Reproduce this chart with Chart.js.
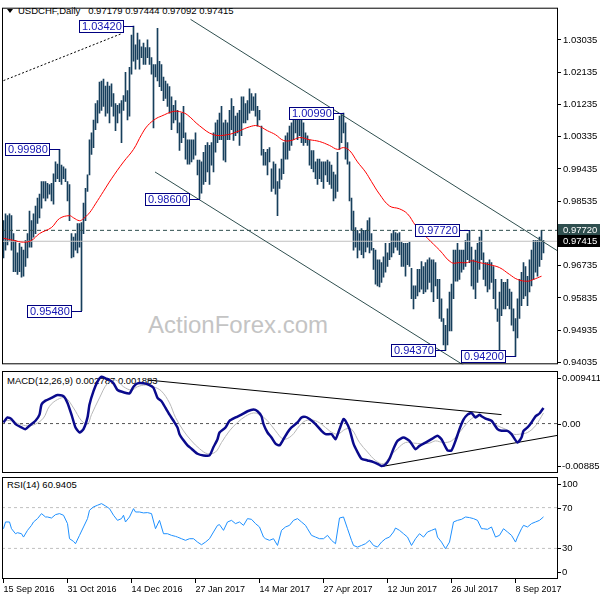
<!DOCTYPE html>
<html lang="en">
<head>
<meta charset="UTF-8" />
<title>USDCHF Daily</title>
<script src="https://cdn.jsdelivr.net/npm/chart.js"></script>
<style>
  body { margin: 0; background: #fff; }
  #wrap { position: relative; width: 600px; height: 600px; overflow: hidden; font-family: 'Liberation Sans', Arial, sans-serif; }
  #wrap canvas { position: absolute; left: 0; }
  .txt { position: absolute; white-space: pre; color: #000; font-size: 9.5px; line-height: 11px; }
  #mark { position: absolute; left: 148px; top: 313px; font-size: 24px; line-height: 24px; color: #c4c4c4; }
  #tri { position: absolute; left: 7px; top: 9px; width: 0; height: 0; border-left: 3px solid transparent; border-right: 3px solid transparent; border-top: 4px solid #000; }
</style>
</head>
<body>
<div id="wrap">
  <div id="mark">ActionForex.com</div>
  <div id="tri"></div>
  <div class="txt" style="left:18px;top:5px">USDCHF,Daily   0.97179 0.97444 0.97092 0.97415</div>
  <div class="txt" style="left:7px;top:375px">MACD(12,26,9) 0.002787 0.001883</div>
  <div class="txt" style="left:7px;top:479px">RSI(14) 60.9405</div>
  <canvas id="main" width="600" height="372" style="top:0"></canvas>
  <canvas id="macd" width="600" height="107" style="top:368px"></canvas>
  <canvas id="rsi" width="600" height="126" style="top:474px"></canvas>
</div>

<script>
  // daily bars, one entry per trading day (index 0 = 15 Sep 2016)
  const highs = [
    0.9799,0.9818,0.9813,0.9818,0.9813,0.9763,0.9744,0.9709,0.9736,0.9725,
    0.9717,0.9744,0.9763,0.9826,0.9799,0.9818,0.9840,0.9862,0.9873,0.9908,
    0.9908,0.9908,0.9903,0.9900,0.9903,0.9930,0.9963,0.9957,0.9998,0.9954,
    0.9949,0.9944,0.9908,0.9900,0.9763,0.9753,0.9763,0.9791,0.9791,0.9794,
    0.9848,0.9889,0.9927,1.0025,1.0044,1.0080,1.0126,1.0134,1.0186,1.0189,
    1.0194,1.0175,1.0186,1.0175,1.0181,1.0154,1.0126,1.0121,1.0126,1.0134,
    1.0148,1.0213,1.0162,1.0227,1.0317,1.0342,1.0290,1.0323,1.0304,1.0284,
    1.0295,1.0282,1.0304,1.0282,1.0254,1.0235,1.0235,1.0336,1.0244,1.0235,
    1.0200,1.0189,1.0181,1.0173,1.0145,1.0121,1.0134,1.0107,1.0072,1.0099,
    1.0118,1.0044,1.0025,1.0025,1.0025,1.0025,1.0044,0.9968,0.9968,0.9963,
    0.9990,1.0009,1.0017,1.0009,1.0017,1.0044,1.0072,1.0080,1.0099,1.0118,
    1.0072,1.0080,1.0072,1.0107,1.0140,1.0118,1.0091,1.0099,1.0107,1.0145,
    1.0145,1.0126,1.0134,1.0167,1.0154,1.0145,1.0154,1.0118,1.0107,1.0063,
    0.9998,0.9990,0.9998,1.0003,0.9944,0.9963,0.9957,0.9908,0.9944,0.9971,
    1.0017,1.0036,1.0044,1.0063,1.0072,1.0094,1.0107,1.0099,1.0091,1.0080,
    1.0072,1.0044,1.0036,1.0025,0.9995,0.9995,0.9963,0.9971,0.9971,0.9963,
    0.9963,0.9963,0.9968,0.9963,0.9954,0.9935,0.9927,0.9990,1.0091,1.0094,
    1.0099,1.0072,1.0017,0.9963,0.9862,0.9826,0.9780,0.9772,0.9763,0.9777,
    0.9772,0.9772,0.9799,0.9807,0.9763,0.9722,0.9717,0.9690,0.9690,0.9682,
    0.9698,0.9736,0.9709,0.9736,0.9763,0.9772,0.9766,0.9763,0.9766,0.9739,
    0.9736,0.9736,0.9736,0.9739,0.9666,0.9617,0.9617,0.9663,0.9663,0.9685,
    0.9671,0.9682,0.9690,0.9695,0.9690,0.9690,0.9682,0.9635,0.9635,0.9581,
    0.9526,0.9507,0.9553,0.9600,0.9622,0.9717,0.9717,0.9736,0.9717,0.9717,
    0.9717,0.9744,0.9763,0.9772,0.9725,0.9690,0.9717,0.9736,0.9753,0.9772,
    0.9709,0.9682,0.9682,0.9690,0.9682,0.9671,0.9635,0.9553,0.9600,0.9635,
    0.9627,0.9627,0.9635,0.9608,0.9600,0.9553,0.9526,0.9581,0.9635,0.9655,
    0.9682,0.9671,0.9644,0.9690,0.9717,0.9744,0.9744,0.9744,0.9753,0.9772,
    0.9744
  ];
  const lows = [
    0.9695,0.9717,0.9731,0.9744,0.9717,0.9657,0.9657,0.9649,0.9657,0.9641,
    0.9644,0.9671,0.9695,0.9725,0.9725,0.9753,0.9763,0.9791,0.9807,0.9834,
    0.9862,0.9854,0.9862,0.9873,0.9854,0.9845,0.9908,0.9916,0.9908,0.9900,
    0.9916,0.9908,0.9854,0.9799,0.9695,0.9698,0.9717,0.9709,0.9725,0.9548,
    0.9763,0.9799,0.9881,0.9927,0.9984,1.0003,1.0053,1.0072,1.0099,1.0107,
    1.0118,1.0091,1.0099,1.0072,1.0118,1.0091,1.0050,1.0072,1.0099,1.0017,
    1.0107,1.0132,1.0080,1.0091,1.0208,1.0244,1.0222,1.0249,1.0222,1.0254,
    1.0235,1.0235,1.0254,1.0235,1.0208,1.0058,1.0200,1.0189,1.0173,1.0162,
    1.0134,1.0140,1.0118,1.0099,1.0053,1.0072,1.0080,1.0044,0.9995,1.0017,
    1.0031,0.9971,0.9957,0.9957,0.9963,0.9971,0.9982,0.9927,0.9860,0.9876,
    0.9900,0.9908,0.9935,0.9900,0.9954,0.9935,0.9990,1.0017,1.0025,1.0025,
    0.9968,0.9963,1.0025,1.0025,1.0053,1.0023,1.0036,1.0044,1.0009,1.0036,
    1.0072,1.0072,1.0080,1.0099,1.0107,1.0107,1.0091,1.0063,1.0080,0.9982,
    0.9954,0.9954,0.9927,0.9963,0.9881,0.9889,0.9873,0.9813,0.9889,0.9914,
    0.9930,0.9971,0.9971,0.9995,1.0009,1.0025,1.0044,1.0025,1.0036,1.0017,
    1.0009,1.0017,1.0009,0.9954,0.9944,0.9935,0.9916,0.9900,0.9916,0.9908,
    0.9889,0.9927,0.9908,0.9900,0.9889,0.9854,0.9862,0.9881,0.9998,1.0017,
    1.0044,0.9971,0.9957,0.9854,0.9772,0.9717,0.9725,0.9695,0.9717,0.9704,
    0.9695,0.9712,0.9725,0.9709,0.9717,0.9663,0.9622,0.9617,0.9614,0.9627,
    0.9641,0.9655,0.9671,0.9690,0.9698,0.9709,0.9725,0.9717,0.9704,0.9671,
    0.9671,0.9644,0.9676,0.9671,0.9581,0.9553,0.9581,0.9589,0.9600,0.9608,
    0.9595,0.9600,0.9608,0.9627,0.9600,0.9573,0.9617,0.9581,0.9526,0.9518,
    0.9452,0.9437,0.9452,0.9491,0.9491,0.9581,0.9630,0.9630,0.9635,0.9655,
    0.9663,0.9671,0.9690,0.9682,0.9617,0.9608,0.9581,0.9627,0.9663,0.9690,
    0.9635,0.9617,0.9600,0.9608,0.9627,0.9581,0.9553,0.9518,0.9422,0.9534,
    0.9553,0.9553,0.9562,0.9553,0.9507,0.9491,0.9420,0.9472,0.9526,0.9562,
    0.9581,0.9589,0.9562,0.9600,0.9617,0.9635,0.9655,0.9644,0.9671,0.9690,
    0.9709
  ];

  // red moving average, read at these bar indexes
  const maIdx = [0,5,10,14,18,24,28,33,35,38,40,43,46,50,54,60,65,69,72,76,79,85,89,92,98,105,112,118,123,127,132,136,140,144,148,153,158,163,167,170,173,177,181,184,188,193,198,202,206,212,218,224,228,232,234,238,243,248,253,257,262,265,269];
  const maVal = [0.9750,0.9744,0.9739,0.9744,0.9763,0.9780,0.9805,0.9813,0.9807,0.9799,0.9805,0.9821,0.9846,0.9881,0.9916,0.9963,0.9998,1.0039,1.0064,1.0083,1.0091,1.0104,1.0102,1.0094,1.0064,1.0039,1.0039,1.0050,1.0061,1.0064,1.0050,1.0039,1.0023,1.0023,1.0031,1.0025,1.0020,1.0009,0.9998,1.0003,0.9995,0.9963,0.9935,0.9908,0.9873,0.9840,0.9832,0.9818,0.9786,0.9750,0.9717,0.9682,0.9682,0.9682,0.9687,0.9682,0.9676,0.9668,0.9649,0.9635,0.9630,0.9635,0.9644];

  const macdIdx = [0,2,4,6,9,11,13,16,18,19,21,24,27,30,32,34,36,38,40,42,43,45,47,49,51,53,55,57,60,63,65,67,70,73,75,77,79,81,83,85,87,88,90,92,94,97,100,103,105,107,108,111,113,116,119,122,125,127,129,130,132,134,136,138,140,142,144,147,149,151,153,156,159,161,164,166,168,170,171,173,175,177,179,182,185,187,189,191,193,195,197,200,203,206,208,211,214,217,219,222,224,226,228,230,232,234,236,238,239,241,244,247,249,252,254,257,259,260,262,264,266,268,270];
  const macdVal = [0.0002,0.0011,0.0008,-0.0001,-0.0007,-0.0010,-0.0004,0.0005,0.0016,0.0034,0.0041,0.0046,0.0051,0.0049,0.0037,0.0016,-0.0007,-0.0016,-0.0010,0.0011,0.0034,0.0058,0.0075,0.0084,0.0081,0.0078,0.0072,0.0060,0.0056,0.0054,0.0066,0.0072,0.0072,0.0069,0.0064,0.0046,0.0040,0.0028,0.0016,0.0005,-0.0007,-0.0019,-0.0030,-0.0039,-0.0045,-0.0054,-0.0057,-0.0057,-0.0042,-0.0028,-0.0016,-0.0007,0.0005,0.0011,0.0016,0.0022,0.0025,0.0022,0.0013,-0.0001,-0.0016,-0.0025,-0.0036,-0.0039,-0.0028,-0.0016,-0.0007,0.0002,0.0011,0.0012,0.0008,-0.0001,-0.0013,-0.0019,-0.0019,-0.0028,-0.0010,0.0008,0.0005,-0.0010,-0.0036,-0.0051,-0.0063,-0.0066,-0.0069,-0.0072,-0.0076,-0.0073,-0.0063,-0.0045,-0.0031,-0.0025,-0.0031,-0.0046,-0.0040,-0.0034,-0.0028,-0.0022,-0.0028,-0.0048,-0.0048,-0.0031,-0.0010,0.0007,0.0016,0.0019,0.0011,0.0016,0.0013,0.0009,0.0005,-0.0010,-0.0013,-0.0013,-0.0019,-0.0034,-0.0025,-0.0013,-0.0007,0.0002,0.0013,0.0018,0.0028];
  const sigIdx = [0,4,8,12,16,20,23,27,31,35,39,42,44,48,52,56,60,64,67,71,75,79,83,86,90,94,98,102,106,109,113,117,121,125,128,132,136,140,144,148,151,155,159,163,167,171,174,178,182,186,190,193,197,201,205,209,213,216,220,224,228,232,236,239,243,247,251,255,258,262,266,270];
  const sigVal = [0.0005,0.0005,-0.0001,-0.0004,-0.0001,0.0010,0.0031,0.0043,0.0046,0.0028,0.0005,-0.0001,0.0016,0.0046,0.0072,0.0078,0.0066,0.0060,0.0066,0.0069,0.0066,0.0058,0.0037,0.0011,-0.0013,-0.0031,-0.0045,-0.0054,-0.0051,-0.0034,-0.0013,0.0002,0.0013,0.0019,0.0016,0.0005,-0.0013,-0.0028,-0.0022,-0.0004,0.0005,0.0006,-0.0001,-0.0013,-0.0019,-0.0010,-0.0010,-0.0034,-0.0051,-0.0066,-0.0072,-0.0060,-0.0045,-0.0034,-0.0035,-0.0036,-0.0035,-0.0031,-0.0034,-0.0031,-0.0016,0.0002,0.0013,0.0013,0.0007,-0.0004,-0.0010,-0.0019,-0.0019,-0.0016,-0.0004,0.0019];

  const rsiIdx = [0,1,3,4,6,7,9,10,12,14,15,17,19,21,22,24,26,28,30,32,33,35,36,38,40,42,43,45,47,49,51,53,55,57,59,60,61,63,65,66,68,70,72,74,76,78,80,82,84,86,87,89,91,93,95,97,99,101,103,105,107,108,110,112,114,116,118,120,122,124,126,128,130,131,133,135,137,139,141,143,145,147,149,151,152,154,156,158,160,162,164,166,168,170,172,174,175,177,179,181,183,185,187,189,191,193,195,196,198,200,202,204,206,208,210,212,214,216,217,219,221,223,225,227,229,231,233,235,237,239,240,242,244,246,248,250,252,254,256,257,259,260,262,264,266,268,270];
  const rsiVal = [49.3,55.9,55.9,49.3,44.4,45.4,44.4,41.1,47.7,52.6,55.9,59.2,64.1,60.8,60.8,59.8,63.1,64.1,62.5,54.3,39.5,36.9,34.6,42.8,51.0,59.2,67.4,70.7,72.3,73.9,71.6,69.0,62.5,57.5,59.2,62.5,55.9,60.8,69.0,65.7,65.7,64.8,65.1,64.1,49.3,57.5,44.4,44.4,42.8,41.8,41.1,39.5,37.9,39.5,39.5,36.2,33.6,36.2,39.5,46.1,52.6,53.3,47.7,55.9,57.5,54.3,55.9,52.6,59.2,58.5,54.3,51.0,41.1,39.5,37.9,39.5,32.9,47.7,51.0,52.6,57.5,59.2,55.9,52.6,49.3,42.8,41.1,39.5,39.5,42.8,37.9,34.6,59.8,60.8,49.3,37.9,32.9,31.3,32.9,34.6,37.9,32.9,31.3,36.2,39.5,41.1,46.1,50.0,47.7,44.4,41.1,32.9,39.5,44.4,41.1,46.1,47.7,49.3,41.1,36.2,29.7,36.2,55.9,57.5,58.5,60.8,60.2,59.2,57.5,49.3,49.3,48.7,51.0,41.1,42.8,49.3,46.1,42.8,36.2,41.1,49.3,52.6,51.0,54.3,55.9,57.5,60.9];

  // drawn objects: trend lines as [bar index, value] end points
  const dottedIdx = [0, 59.4],       dottedVal = [1.0190, 1.0322];
  const chanTopIdx = [93.5, 277.25], chanTopVal = [1.0361, 0.9714];
  const chanBotIdx = [75.75, 230.25], chanBotVal = [0.9935, 0.9395];
  const macdTopIdx = [72, 249],      macdTopVal = [0.0078, 0.0016];
  const macdBotIdx = [189, 277.25],  macdBotVal = [-0.0077, -0.0021];
  const resistLevel = 0.9772;
  const lastPrice = 0.97415;

  // price labels placed on swing points
  const annIdx = [65, 28, 39, 98, 170, 233, 221, 256];
  const annPrice = [1.0342, 0.9998, 0.9548, 0.9860, 1.0099, 0.9772, 0.9437, 0.9420];
  const tagVals = [resistLevel, lastPrice];

  // axes
  const priceTicks = [1.03035, 1.02135, 1.01235, 1.00335, 0.99435, 0.98535, 0.97635, 0.96735, 0.95835, 0.94935, 0.94035];
  const macdTicks = [0.009411, 0, -0.008852];
  const rsiTicks = [100, 70, 30, 0];
  const rsiLevels = [70, 30];
  const dateIdx = [0, 32, 64, 96, 128, 160, 192, 224, 256];
  const dateLabels = ['15 Sep 2016', '31 Oct 2016', '14 Dec 2016', '27 Jan 2017', '14 Mar 2017', '27 Apr 2017', '12 Jun 2017', '26 Jul 2017', '8 Sep 2017'];

  const FONT = "'Liberation Sans', Arial, sans-serif";
  const X_MIN = -0.75, X_MAX = 277.25;
  const TAG_COLORS = ['#2f4f4f', '#000000'];
  Chart.defaults.font.family = FONT;
  Chart.defaults.animation = false;

  function pts(xs, ys) { return xs.map((x, k) => ({ x: x, y: ys[k] })); }
  function line(xs, ys, color, width, more) {
    return Object.assign({ type: 'line', data: pts(xs, ys), borderColor: color, borderWidth: width,
      pointRadius: 0, fill: false, tension: 0 }, more || {});
  }
  function hline(v, color, dash) { return line([X_MIN, X_MAX], [v, v], color, 1, { borderDash: dash }); }
  function xAxis() { return { type: 'linear', display: false, min: X_MIN, max: X_MAX, offset: false, bounds: 'data' }; }

  const framePlugin = {
    id: 'frame',
    afterDraw(chart) {
      const a = chart.chartArea, ctx = chart.ctx;
      ctx.save();
      ctx.strokeStyle = '#000';
      ctx.lineWidth = 1;
      ctx.strokeRect(a.left + 0.5, a.top + 0.5, a.right - a.left - 1, a.bottom - a.top - 1);
      ctx.restore();
    }
  };

  const annPlugin = {
    id: 'ann',
    afterDatasetsDraw(chart) {
      const { ctx, scales: { x, y } } = chart;
      ctx.save();
      ctx.font = '11px ' + FONT;
      ctx.textBaseline = 'middle';
      ctx.lineWidth = 1;
      annIdx.forEach((idx, k) => {
        const txt = annPrice[k].toFixed(5);
        const bx = Math.floor(x.getPixelForValue(idx));
        const py = Math.round(y.getPixelForValue(annPrice[k]));
        const w = Math.ceil(ctx.measureText(txt).width) + 4;
        const left = bx - 10 - w;
        ctx.fillStyle = '#fff';
        ctx.fillRect(left, py - 6, w, 12);
        ctx.strokeStyle = '#000080';
        ctx.strokeRect(left + 0.5, py - 5.5, w, 12);
        ctx.beginPath();
        ctx.moveTo(left + w + 0.5, py + 0.5);
        ctx.lineTo(bx + 1, py + 0.5);
        ctx.stroke();
        ctx.fillStyle = '#1414b4';
        ctx.fillText(txt, left + 3, py + 1);
      });
      ctx.restore();
    }
  };

  const tagPlugin = {
    id: 'tags',
    afterDraw(chart) {
      const { ctx, chartArea: a, scales: { y } } = chart;
      ctx.save();
      ctx.font = '9.5px ' + FONT;
      ctx.textBaseline = 'middle';
      tagVals.forEach((v, k) => {
        const py = Math.round(y.getPixelForValue(v));
        ctx.fillStyle = TAG_COLORS[k];
        ctx.fillRect(a.right, py - 6, 42, 12);
        ctx.fillStyle = '#fff';
        ctx.fillText(v.toFixed(5), a.right + 5, py + 0.5);
      });
      ctx.restore();
    }
  };

  function sideLabels(id, vals, fmt) {
    return {
      id: id,
      afterDraw(chart) {
        const { ctx, chartArea: a, scales: { y } } = chart;
        ctx.save();
        ctx.font = '9.5px ' + FONT;
        ctx.fillStyle = '#000';
        ctx.textBaseline = 'middle';
        vals.forEach(v => {
          const py = Math.round(Math.min(Math.max(y.getPixelForValue(v), a.top + 7), a.bottom - 7));
          ctx.fillRect(a.right, py, 3, 1);
          ctx.fillText(fmt(v), a.right + 4, py + 0.5);
        });
        ctx.restore();
      }
    };
  }

  // price panel
  new Chart(document.getElementById('main'), {
    type: 'bar',
    data: {
      datasets: [
        line(maIdx, maVal, '#ff0000', 1, { tension: 0.4 }),
        line(chanTopIdx, chanTopVal, '#2f4f4f', 1),
        line(chanBotIdx, chanBotVal, '#2f4f4f', 1),
        line(dottedIdx, dottedVal, '#000000', 1, { borderDash: [2, 2] }),
        hline(resistLevel, '#2f4f4f', [4, 3]),
        hline(lastPrice, '#c0c0c0', []),
        {
          type: 'bar',
          data: highs.map((h, i) => ({ x: i, y: [lows[i], h] })),
          backgroundColor: '#173f5c',
          borderWidth: 0,
          barThickness: 1
        }
      ]
    },
    options: {
      responsive: false,
      events: [],
      layout: { padding: { left: 2, top: 2, right: 0, bottom: 5 } },
      plugins: { legend: { display: false }, tooltip: { enabled: false } },
      scales: {
        x: xAxis(),
        y: {
          position: 'right', min: 0.93981, max: 1.03935, bounds: 'data', beginAtZero: false,
          afterFit: s => { s.width = 42; },
          afterBuildTicks: s => { s.ticks = priceTicks.map(v => ({ value: v })); },
          ticks: { color: '#000', padding: 2, autoSkip: false, font: { size: 9.5 }, callback: v => v.toFixed(5) },
          grid: { drawOnChartArea: false, drawTicks: true, tickLength: 3, color: '#000' },
          border: { display: false }
        }
      }
    },
    plugins: [framePlugin, annPlugin, tagPlugin]
  });

  // MACD panel
  new Chart(document.getElementById('macd'), {
    type: 'line',
    data: {
      datasets: [
        line(macdIdx, macdVal, '#0a0a8c', 2.5, { tension: 0.2 }),
        line(sigIdx, sigVal, '#b8b8b8', 1, { tension: 0.35 }),
        line(macdTopIdx, macdTopVal, '#000', 1),
        line(macdBotIdx, macdBotVal, '#000', 1),
        hline(0, '#555', [3, 3])
      ]
    },
    options: {
      responsive: false,
      events: [],
      layout: { padding: { left: 2, top: 3, right: 42, bottom: 2 } },
      plugins: { legend: { display: false }, tooltip: { enabled: false } },
      scales: {
        x: xAxis(),
        y: { display: false, min: -0.008852, max: 0.009411, bounds: 'data' }
      }
    },
    plugins: [framePlugin, sideLabels('macdLabels', macdTicks, v => v === 0 ? '0.00' : v.toFixed(6))]
  });

  // RSI panel with the date axis
  new Chart(document.getElementById('rsi'), {
    type: 'line',
    data: {
      datasets: [
        line(rsiIdx, rsiVal, '#1e90ff', 1),
        hline(rsiLevels[0], '#c0c0c0', [3, 3]),
        hline(rsiLevels[1], '#c0c0c0', [3, 3])
      ]
    },
    options: {
      responsive: false,
      events: [],
      layout: { padding: { left: 2, top: 3, right: 42, bottom: 0 } },
      plugins: { legend: { display: false }, tooltip: { enabled: false } },
      scales: {
        x: {
          type: 'linear', min: X_MIN, max: X_MAX, offset: false, bounds: 'data',
          afterFit: s => { s.height = 21; },
          afterBuildTicks: s => { s.ticks = dateIdx.map(v => ({ value: v })); },
          ticks: { color: '#000', align: 'start', padding: 1, autoSkip: false, maxRotation: 0, minRotation: 0,
                   font: { size: 9 }, callback: (v, k) => dateLabels[k] },
          grid: { drawOnChartArea: false, drawTicks: true, tickLength: 4, color: '#000', offset: false },
          border: { display: false }
        },
        y: { display: false, min: 0, max: 100, bounds: 'data' }
      }
    },
    plugins: [framePlugin, sideLabels('rsiLabels', rsiTicks, v => String(v))]
  });
</script>
</body>
</html>
